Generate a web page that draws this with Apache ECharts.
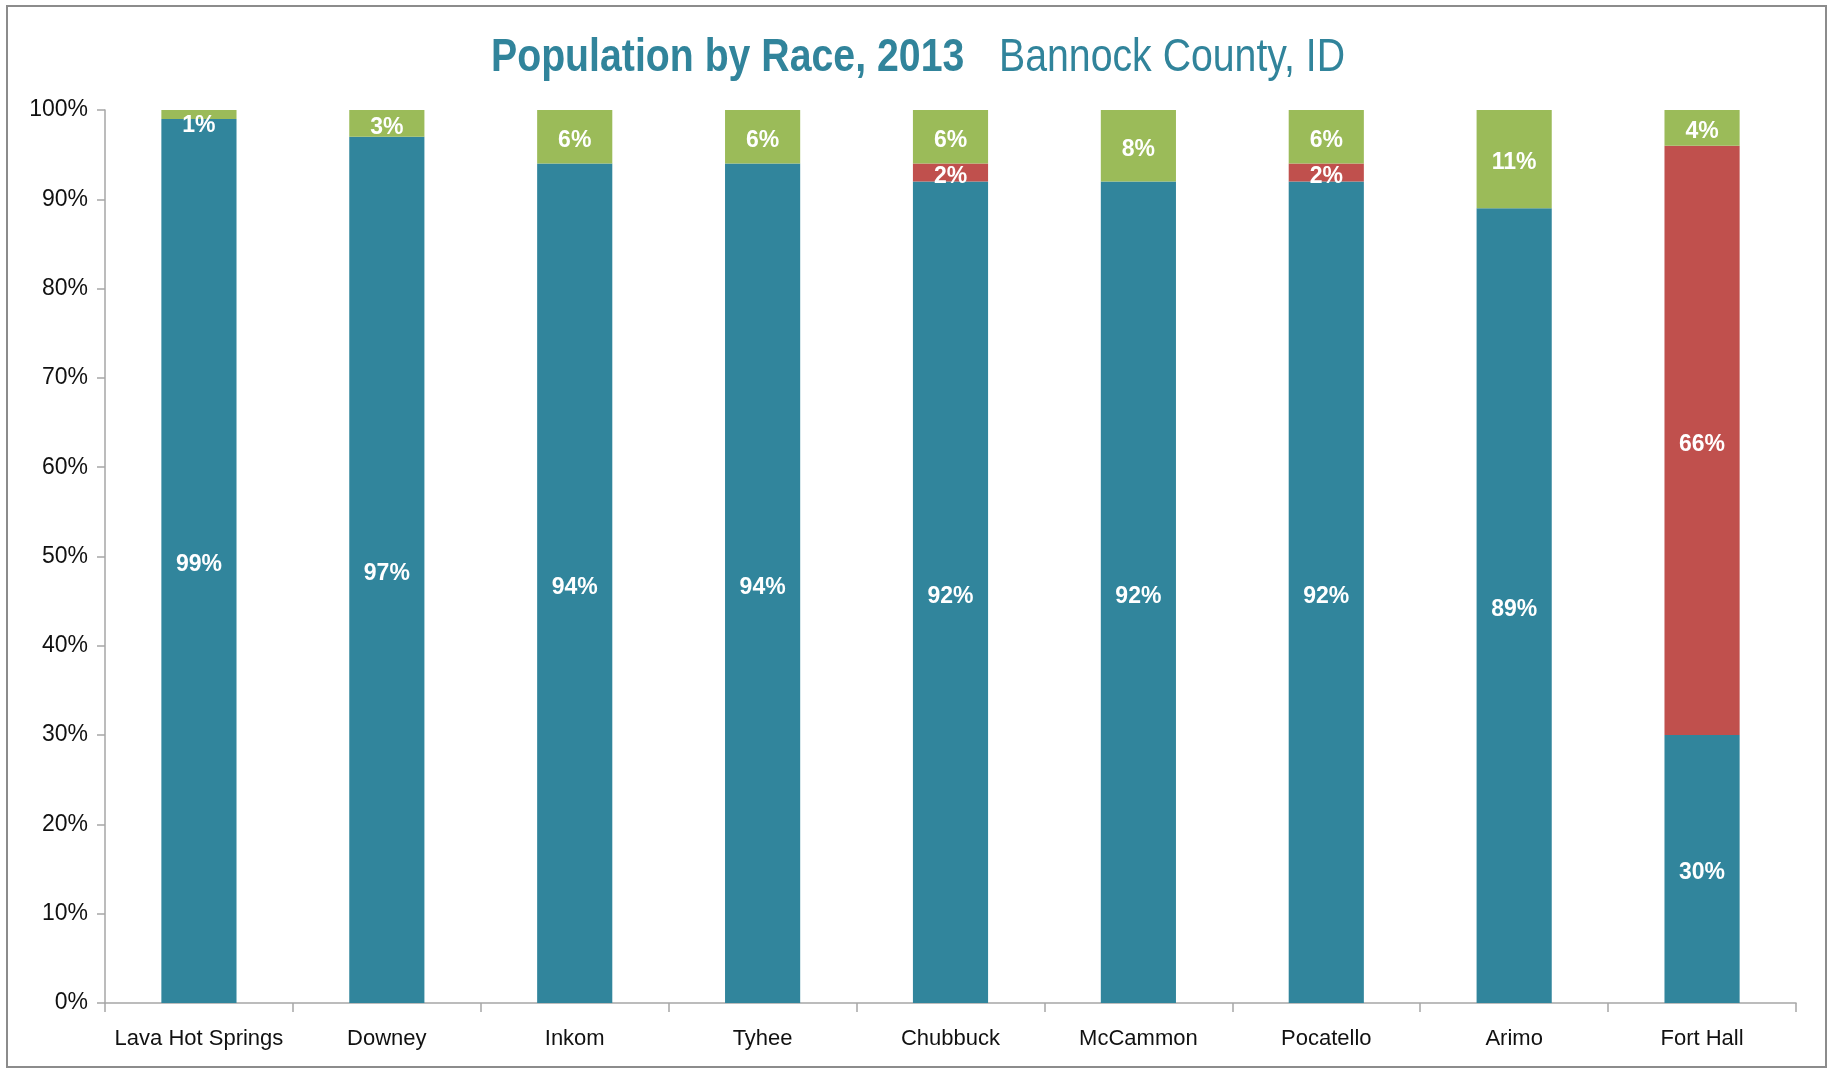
<!DOCTYPE html>
<html>
<head>
<meta charset="utf-8">
<title>Population by Race, 2013 – Bannock County, ID</title>
<script src="https://cdn.jsdelivr.net/npm/echarts@6/dist/echarts.min.js"></script>
<style>
  html, body { margin: 0; padding: 0; background: #fff; }
  #chart { width: 1832px; height: 1068px; }
</style>
</head>
<body>
<div id="chart"></div>
<script>
// Places in Bannock County and the share of each population group (percent)
const categories = ['Lava Hot Springs', 'Downey', 'Inkom', 'Tyhee', 'Chubbuck', 'McCammon', 'Pocatello', 'Arimo', 'Fort Hall'];
const whiteShare = [99, 97, 94, 94, 92, 92, 92, 89, 30];
const nativeShare = [0, 0, 0, 0, 2, 0, 2, 0, 66];
const otherShare = [1, 3, 6, 6, 6, 8, 6, 11, 4];
const yTicks = [0, 10, 20, 30, 40, 50, 60, 70, 80, 90, 100];

const titleMain = 'Population by Race, 2013';
const titleSub = 'Bannock County, ID';

const SANS = "'Liberation Sans', Arial, sans-serif";
const TITLE_COLOR = '#31849B';

const grid = { left: 105, right: 36, top: 110, bottom: 65 };
const plotH = 1068 - grid.top - grid.bottom;

const labelBase = {
  show: true,
  position: 'inside',
  offset: [0, 4],
  color: '#ffffff',
  fontFamily: SANS,
  fontWeight: 'bold',
  fontSize: 23,
  formatter: p => (p.value > 0 ? p.value + '%' : '')
};

// Top segments that are too thin get their label nudged down so it stays inside the plot
function topItems(values) {
  const halfLabel = 13;
  return values.map(v => {
    const half = (v / 100) * plotH / 2;
    const shift = Math.max(0, halfLabel - half);
    return shift > 0 ? { value: v, label: { offset: [0, 3 + shift] } } : v;
  });
}

const chart = echarts.init(document.getElementById('chart'), null, { renderer: 'canvas' });

chart.setOption({
  backgroundColor: '#ffffff',
  animation: false,
  graphic: [
    {
      type: 'rect',
      shape: { x: 7, y: 6, width: 1819, height: 1061 },
      style: { fill: 'none', stroke: '#8C8C8C', lineWidth: 2 },
      silent: true
    },
    // Condensed title: two runs, bold and regular, squeezed horizontally
    {
      type: 'text',
      x: 491, y: 58, scaleX: 0.835,
      style: {
        text: titleMain, fill: TITLE_COLOR,
        font: 'bold 47px ' + SANS,
        align: 'left', verticalAlign: 'middle'
      },
      silent: true
    },
    {
      type: 'text',
      x: 999, y: 58, scaleX: 0.835,
      style: {
        text: titleSub, fill: TITLE_COLOR,
        font: 'normal 47px ' + SANS,
        align: 'left', verticalAlign: 'middle'
      },
      silent: true
    }
  ],
  grid: grid,
  xAxis: {
    type: 'category',
    data: categories,
    boundaryGap: true,
    axisLine: { lineStyle: { color: '#A6A6A6', width: 1.5 } },
    axisTick: { show: true, interval: 0, length: 9, lineStyle: { color: '#A6A6A6', width: 1.5 } },
    axisLabel: { interval: 0, margin: 25, color: '#111111', fontFamily: SANS, fontSize: 22 }
  },
  yAxis: {
    type: 'value',
    min: yTicks[0],
    max: yTicks[yTicks.length - 1],
    interval: yTicks[1] - yTicks[0],
    splitLine: { show: false },
    axisLine: { show: true, lineStyle: { color: '#A6A6A6', width: 1.5 } },
    axisTick: { show: true, inside: false, length: 8, lineStyle: { color: '#A6A6A6', width: 1.5 } },
    axisLabel: { margin: 17, padding: [8, 0, 0, 0], color: '#111111', fontFamily: SANS, fontSize: 23, formatter: '{value}%' }
  },
  series: [
    {
      name: 'White',
      type: 'bar',
      stack: 'race',
      barWidth: '40%',
      data: whiteShare,
      itemStyle: { color: '#31859C' },
      label: labelBase
    },
    {
      name: 'American Indian',
      type: 'bar',
      stack: 'race',
      barWidth: '40%',
      data: nativeShare,
      itemStyle: { color: '#C0504D' },
      label: labelBase
    },
    {
      name: 'Other',
      type: 'bar',
      stack: 'race',
      barWidth: '40%',
      data: topItems(otherShare),
      itemStyle: { color: '#9BBB59' },
      label: labelBase
    }
  ]
});
</script>
</body>
</html>
